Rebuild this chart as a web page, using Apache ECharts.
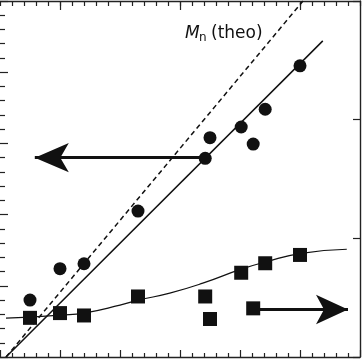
<!DOCTYPE html>
<html>
<head>
<meta charset="utf-8">
<script src="https://cdn.jsdelivr.net/npm/echarts@6/dist/echarts.min.js"></script>
<style>
html,body{margin:0;padding:0;background:#fff;}
#chart{width:363px;height:359px;}
</style>
</head>
<body>
<div id="chart"></div>
<script>
// Sample positions (bottom axis units)
var sampleX = [0.5, 1.0, 1.4, 2.3, 3.42, 3.5, 4.02, 4.22, 4.42, 5.0];
// Mn values (left axis)
var mnValues = [0.80, 1.24, 1.31, 2.05, 2.79, 3.08, 3.23, 2.99, 3.48, 4.09];
// Right-axis values
var pdiValues = [0.33, 0.37, 0.35, 0.51, 0.51, 0.32, 0.71, 0.41, 0.79, 0.86];
// Linear fit through Mn (left axis)
var fitX = [0.1, 5.38];
var fitY = [0.0, 4.44];
// Theoretical Mn (left axis)
var theoX = [0.1, 5.05];
var theoY = [0.0, 5.0];
// Fitted curve through right-axis values
var curveX = [0.1, 0.5, 1.0, 1.4, 2.0, 2.3, 2.83, 3.38, 4.02, 4.42, 5.02, 5.78];
var curveY = [0.328, 0.336, 0.353, 0.37, 0.437, 0.479, 0.538, 0.622, 0.74, 0.80, 0.874, 0.908];
// Arrow annotations: [fromX, toX, level]
var leftArrow = [3.42, 0.58, 2.80];
var rightArrow = [4.22, 5.8, 0.40];
// Top axis tick positions
var topTicks = [];
for (var i = 0; i <= 30; i++) topTicks.push(String(i));
var theoLabel = ['M', 'n', '(theo)'];

function zip(a, b) { return a.map(function (v, i) { return [v, b[i]]; }); }

var ink = '#111';
var axisCol = '#222';
var gridBox = {left: 0, right: 3, top: 1, bottom: 2, containLabel: false};

var chart = echarts.init(document.getElementById('chart'), null, {renderer: 'canvas'});
chart.setOption({
  animation: false,
  backgroundColor: '#fff',
  grid: [gridBox, Object.assign({}, gridBox)],
  xAxis: [
    {
      gridIndex: 0, type: 'value', position: 'bottom', min: 0, max: 6, interval: 1,
      axisLine: {show: true, onZero: false, lineStyle: {color: axisCol, width: 1.3}},
      axisTick: {show: true, inside: true, length: 7, lineStyle: {color: axisCol, width: 1.2}},
      minorTick: {show: true, splitNumber: 5, length: 4, lineStyle: {color: axisCol, width: 1.2}},
      axisLabel: {show: false}, splitLine: {show: false}, minorSplitLine: {show: false}
    },
    {
      gridIndex: 0, type: 'category', position: 'top', data: topTicks, boundaryGap: false,
      axisLine: {show: true, onZero: false, lineStyle: {color: axisCol, width: 1.3}},
      axisTick: {show: true, inside: true, length: 9, interval: function (idx) { return idx % 10 === 5; }, lineStyle: {color: axisCol, width: 1.2}},
      axisLabel: {show: false}, splitLine: {show: false}
    },
    {
      gridIndex: 1, type: 'value', position: 'top', min: 0, max: 30, interval: 1,
      axisLine: {show: false, onZero: false},
      axisTick: {show: true, inside: true, length: 5, lineStyle: {color: axisCol, width: 1.2}},
      axisLabel: {show: false}, splitLine: {show: false}
    }
  ],
  yAxis: [
    {
      gridIndex: 0, type: 'value', position: 'left', min: 0, max: 5, interval: 1,
      axisLine: {show: false, onZero: false},
      axisTick: {show: true, inside: true, length: 8, lineStyle: {color: axisCol, width: 1.2}},
      minorTick: {show: true, splitNumber: 5, length: 5, lineStyle: {color: axisCol, width: 1.2}},
      axisLabel: {show: false}, splitLine: {show: false}, minorSplitLine: {show: false}
    },
    {
      gridIndex: 0, type: 'value', position: 'right', min: 0, max: 3, interval: 1,
      axisLine: {show: true, onZero: false, lineStyle: {color: axisCol, width: 1.4}},
      axisTick: {show: true, inside: true, length: 7, lineStyle: {color: axisCol, width: 1.2}},
      axisLabel: {show: false}, splitLine: {show: false}
    },
    {
      gridIndex: 1, type: 'value', min: 0, max: 1, show: false,
      axisLine: {onZero: false}
    }
  ],
  series: [
    {
      type: 'line', xAxisIndex: 0, yAxisIndex: 0, data: zip(theoX, theoY),
      showSymbol: false, symbol: 'none', silent: true,
      lineStyle: {color: ink, width: 1.5, type: [5, 3.5]}, z: 2
    },
    {
      type: 'line', xAxisIndex: 0, yAxisIndex: 0, data: zip(fitX, fitY),
      showSymbol: false, symbol: 'none', silent: true,
      lineStyle: {color: ink, width: 1.5}, z: 2
    },
    {
      type: 'line', xAxisIndex: 0, yAxisIndex: 1, data: zip(curveX, curveY),
      smooth: true, showSymbol: false, symbol: 'none', silent: true,
      lineStyle: {color: ink, width: 1.2}, z: 2
    },
    {
      type: 'scatter', xAxisIndex: 0, yAxisIndex: 0, data: zip(sampleX, mnValues),
      symbol: 'circle', symbolSize: 13, itemStyle: {color: ink, opacity: 1}, z: 5,
      markLine: {
        silent: true, animation: false,
        symbol: ['none', 'arrow'], symbolSize: [22, 34],
        label: {show: false},
        lineStyle: {color: ink, width: 3, type: 'solid', opacity: 1},
        data: [[{coord: [leftArrow[0], leftArrow[2]]}, {coord: [leftArrow[1], leftArrow[2]]}]]
      }
    },
    {
      type: 'scatter', xAxisIndex: 0, yAxisIndex: 1, data: zip(sampleX, pdiValues),
      symbol: 'rect', symbolSize: 14, itemStyle: {color: ink, opacity: 1}, z: 5,
      markLine: {
        silent: true, animation: false,
        symbol: ['none', 'arrow'], symbolSize: [22, 32],
        label: {show: false},
        lineStyle: {color: ink, width: 3, type: 'solid', opacity: 1},
        data: [[{coord: [rightArrow[0], rightArrow[2]]}, {coord: [rightArrow[1], rightArrow[2]]}]]
      }
    }
  ],
  graphic: [
    {type: 'text', left: 185, top: 25, style: {text: theoLabel[0], font: 'italic 17px "DejaVu Sans", sans-serif', fill: ink}},
    {type: 'text', left: 199, top: 32, style: {text: theoLabel[1], font: '12px "DejaVu Sans", sans-serif', fill: ink}},
    {type: 'text', left: 211, top: 25, style: {text: theoLabel[2], font: '17px "DejaVu Sans", sans-serif', fill: ink}}
  ]
});
</script>
</body>
</html>
